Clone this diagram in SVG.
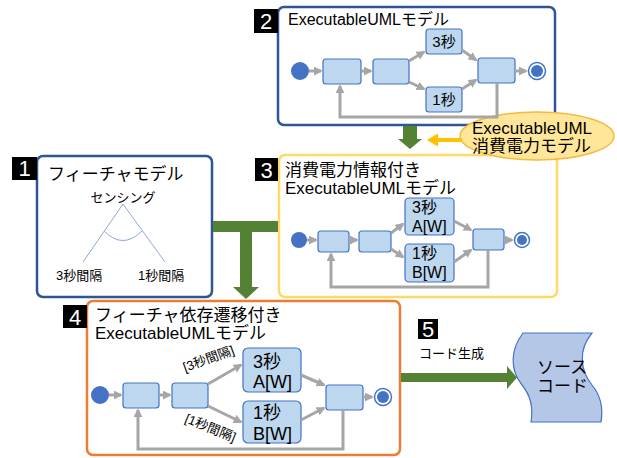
<svg xmlns="http://www.w3.org/2000/svg" width="617" height="458" viewBox="0 0 617 458">
<style>
text{font-family:"Liberation Sans","Noto Sans CJK JP",sans-serif;fill:#000}
.box{fill:#fff;stroke-width:2.5}
.blue{stroke:#2F5597}
.num{fill:#000}
.numt{fill:#fff;font-size:22px;text-anchor:middle}
.n{fill:#BDD7EE;stroke:#4472C4;stroke-width:1.2}
.ini{fill:#4472C4}
.e{fill:none;stroke:#A6A6A6;stroke-width:3}
.ea{fill:none;stroke:#A6A6A6;stroke-width:3;marker-end:url(#ah)}
.g{fill:#548235}
.t1{font-size:16px}
.t2{font-size:17px}
</style>
<defs>
<marker id="ah" viewBox="0 0 10 10" refX="8" refY="5" markerWidth="3" markerHeight="3" orient="auto"><path d="M0,0 L10,5 L0,10 z" fill="#A6A6A6"/></marker>
</defs>

<g id="box2">
<rect class="box blue" x="278" y="7" width="277" height="118" rx="6"/>
<rect class="num" x="254" y="9" width="24" height="24"/>
<text class="numt" x="266" y="29">2</text>
<text class="t1" x="288" y="25">ExecutableUMLモデル</text>
</g>
<g id="box2-nodes">
<circle class="ini" cx="300" cy="71" r="9"/>
<rect class="n" x="323" y="59" width="38" height="25" rx="3"/>
<rect class="n" x="373" y="59" width="36" height="25" rx="3"/>
<rect class="n" x="426" y="29" width="36" height="25" rx="3"/>
<text x="444" y="47" font-size="15" text-anchor="middle">3秒</text>
<rect class="n" x="426" y="87" width="36" height="25" rx="3"/>
<text x="444" y="105" font-size="15" text-anchor="middle">1秒</text>
<rect class="n" x="478" y="58" width="37" height="25" rx="3"/>
<circle cx="537" cy="71" r="8.5" fill="#fff" stroke="#4472C4" stroke-width="1.5"/>
<circle class="ini" cx="537" cy="71" r="6"/>
</g>

<g id="box1">
<rect class="box blue" x="37" y="156" width="175" height="141" rx="6"/>
<rect class="num" x="12" y="157" width="25" height="23"/>
<text class="numt" x="24.5" y="176">1</text>
<text x="48" y="180" font-size="17">フィーチャモデル</text>
<text x="123" y="202" font-size="13" text-anchor="middle">センシング</text>
<path d="M83,262 L123,204 L165,262" fill="none" stroke="#8EA9DB" stroke-width="1"/>
<path d="M104,231 Q123,250 142,231" fill="none" stroke="#8EA9DB" stroke-width="1"/>
<text x="56" y="280" font-size="13">3秒間隔</text>
<text x="138" y="280" font-size="13">1秒間隔</text>
</g>

<g id="box3">
<rect class="box" stroke="#FFD966" x="279" y="155" width="278" height="142" rx="6"/>
<rect class="num" x="255" y="158" width="23" height="23"/>
<text class="numt" x="266.5" y="177.5">3</text>
<text class="t2" x="285" y="176">消費電力情報付き</text>
<text class="t2" x="285" y="194">ExecutableUMLモデル</text>
<circle class="ini" cx="299" cy="240" r="8"/>
<rect class="n" x="318" y="231" width="31" height="21" rx="3"/>
<rect class="n" x="359" y="231" width="32" height="21" rx="3"/>
<rect class="n" x="405" y="198" width="49" height="37" rx="4"/>
<text x="412" y="213" font-size="16">3秒</text>
<text x="412" y="232" font-size="16">A[W]</text>
<rect class="n" x="405" y="244" width="49" height="38" rx="4"/>
<text x="412" y="259" font-size="16">1秒</text>
<text x="412" y="278" font-size="16">B[W]</text>
<rect class="n" x="473" y="229" width="31" height="21" rx="3"/>
<circle cx="522" cy="240" r="7.5" fill="#fff" stroke="#4472C4" stroke-width="1.5"/>
<circle class="ini" cx="522" cy="240" r="5"/>
</g>

<g id="box4">
<rect class="box" stroke="#ED7D31" x="87" y="301" width="313" height="154" rx="6"/>
<rect class="num" x="63" y="305" width="24" height="23"/>
<text class="numt" x="75" y="324.5">4</text>
<text class="t2" x="95" y="321">フィーチャ依存遷移付き</text>
<text class="t2" x="95" y="339">ExecutableUMLモデル</text>
<circle class="ini" cx="100" cy="395" r="9"/>
<rect class="n" x="123" y="383" width="36" height="25" rx="3"/>
<rect class="n" x="172" y="383" width="36" height="25" rx="3"/>
<rect class="n" x="243" y="348" width="58" height="44" rx="5"/>
<text x="253" y="368" font-size="18">3秒</text>
<text x="253" y="388" font-size="18">A[W]</text>
<rect class="n" x="243" y="401" width="58" height="42" rx="5"/>
<text x="253" y="419" font-size="18">1秒</text>
<text x="253" y="440" font-size="18">B[W]</text>
<rect class="n" x="326" y="385" width="37" height="25" rx="3"/>
<circle cx="383" cy="397" r="8.5" fill="#fff" stroke="#4472C4" stroke-width="1.5"/>
<circle class="ini" cx="383" cy="397" r="6"/>
<text x="185" y="372" font-size="13" transform="rotate(-20 185 372)">[3秒間隔]</text>
<text x="184" y="422" font-size="13" transform="rotate(22 184 422)">[1秒間隔]</text>
</g>

<g id="ellipse-power">
<ellipse cx="537" cy="136" rx="77" ry="24" fill="#FFE699" stroke="#F4B942" stroke-width="1.5"/>
<text x="472" y="134" font-size="17">ExecutableUML</text>
<text x="472" y="152" font-size="17">消費電力モデル</text>
</g>

<g id="box5">
<rect class="num" x="418" y="319" width="20" height="20"/>
<text class="numt" x="428" y="337" font-size="19">5</text>
<text x="419" y="358" font-size="13">コード生成</text>
</g>

<g id="source-code">
<path d="M523,333 L592,333 C578,350 580,370 592,385 C602,397 603,410 601,422 L531,422 C533,410 532,397 522,385 C510,370 510,350 523,333 Z" fill="#B4C7E7" stroke="#4472C4" stroke-width="1.2"/>
<text x="537" y="373" font-size="17">ソース</text>
<text x="537" y="392" font-size="17">コード</text>
</g>

<g id="connectors">
<path class="ea" d="M309,71 L321,71"/>
<path class="ea" d="M361,71 L371,71"/>
<path class="ea" d="M409,61 L424,52"/>
<path class="ea" d="M409,82 L424,89"/>
<path class="ea" d="M462,50 L476,60"/>
<path class="ea" d="M462,89 L476,80"/>
<path class="ea" d="M515,71 L526,71"/>
<path class="ea" d="M497,83 L497,117 L340,117 L340,86"/>

<path class="ea" d="M307,240 L316,240"/>
<path class="ea" d="M349,240 L357,240"/>
<path class="ea" d="M391,233 L403,224"/>
<path class="ea" d="M391,249 L403,257"/>
<path class="ea" d="M454,221 L471,230"/>
<path class="ea" d="M454,262 L471,250"/>
<path class="ea" d="M504,240 L512,240"/>
<path class="ea" d="M488,250 L488,287 L331,287 L331,254"/>

<path class="ea" d="M109,395 L121,395"/>
<path class="ea" d="M159,395 L170,395"/>
<path class="ea" d="M208,384 L241,365"/>
<path class="ea" d="M208,406 L241,422"/>
<path class="ea" d="M301,375 L324,385"/>
<path class="ea" d="M301,420 L324,408"/>
<path class="ea" d="M363,397 L372,397"/>
<path class="ea" d="M343,410 L343,449 L138,449 L138,410"/>

<rect class="g" x="403" y="126" width="14" height="13"/>
<polygon class="g" points="398,139 422,139 410,149"/>
<line x1="462" y1="140" x2="436" y2="140" stroke="#FFC000" stroke-width="4"/>
<polygon points="427,140 438,133.5 438,146.5" fill="#FFC000"/>
<rect class="g" x="213" y="221" width="65" height="11"/>
<rect class="g" x="240" y="232" width="12" height="55"/>
<polygon class="g" points="233,287 259,287 246,299"/>
<rect class="g" x="401" y="373" width="106" height="9"/>
<polygon class="g" points="507,366 507,389 517,377.5"/>
</g>
</svg>
